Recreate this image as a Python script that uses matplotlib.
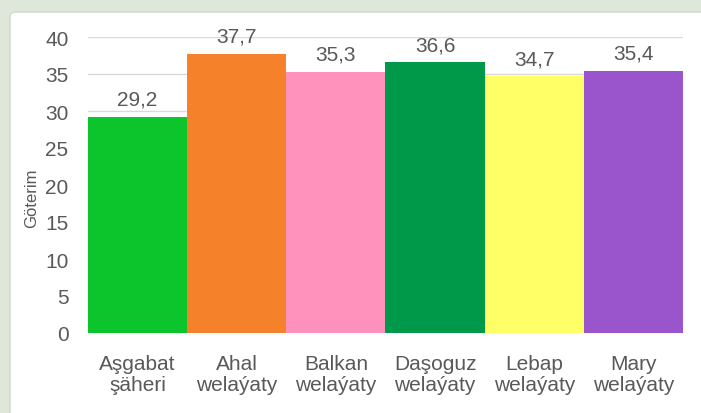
import matplotlib.pyplot as plt
from matplotlib.patches import FancyBboxPatch

# data
regions = ['Aşgabat\nşäheri', 'Ahal\nwelaýaty', 'Balkan\nwelaýaty',
           'Daşoguz\nwelaýaty', 'Lebap\nwelaýaty', 'Mary\nwelaýaty']
values = [29.2, 37.7, 35.3, 36.6, 34.7, 35.4]
labels = ['29,2', '37,7', '35,3', '36,6', '34,7', '35,4']
colors = ['#0cc42c', '#f5822a', '#ff92bd', '#00994a', '#ffff66', '#9a55cc']

plt.rcParams['font.family'] = ['Liberation Sans', 'DejaVu Sans']
txt = '#595959'

fig = plt.figure(figsize=(7.01, 4.14), dpi=100, facecolor='#dfe6da')

# white card behind the chart
card = FancyBboxPatch((10/701, -0.05), 1.0, 1.05 - 13/414,
                      boxstyle='round,pad=0,rounding_size=0.01',
                      transform=fig.transFigure, facecolor='white',
                      edgecolor='#cfd8ca', linewidth=1, zorder=-10)
fig.patches.append(card)

ax = fig.add_axes([88/701, 80/414, 595/701, 296/414])
ax.set_facecolor('none')

x = range(len(regions))
ax.bar(x, values, width=1.0, color=colors, zorder=2)
for i, v in enumerate(values):
    ax.text(i, v + 1.1, labels[i], ha='center', va='bottom',
            fontsize=15, color=txt, clip_on=False)

ax.set_xlim(-0.5, len(regions) - 0.5)
ax.set_ylim(0, 40)
ax.set_yticks(range(0, 41, 5))
ax.yaxis.grid(True, color='#d9d9d9', linewidth=1, zorder=0)
ax.set_axisbelow(True)
ax.set_xticks(list(x))
ax.set_xticklabels(regions, fontsize=15, color=txt, linespacing=1.12)
ax.tick_params(axis='y', length=0, pad=14, labelsize=15, labelcolor=txt)
ax.tick_params(axis='x', length=0, pad=15)
for s in ax.spines.values():
    s.set_visible(False)

ax.set_ylabel('Göterim', fontsize=12, color=txt)
ax.yaxis.set_label_coords(-0.082, 0.46)

fig.savefig('out.png', dpi=100, facecolor=fig.get_facecolor())
